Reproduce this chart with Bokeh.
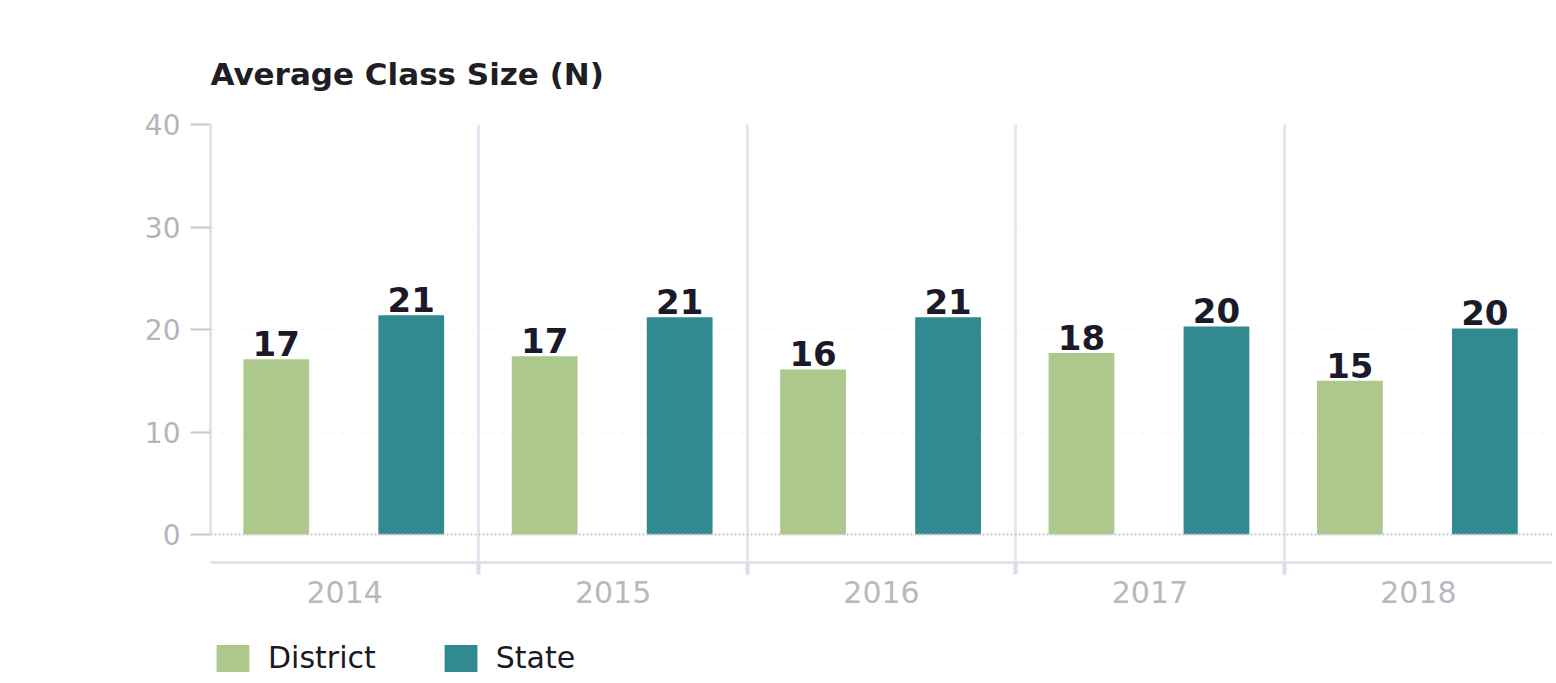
from bokeh.plotting import figure
from bokeh.models import (ColumnDataSource, Range1d, FixedTicker, Span, Legend, LegendItem,
                          LabelSet)
from bokeh.core.properties import value
from bokeh.layouts import column
from bokeh.transform import dodge
from bokeh.embed import file_html
from bokeh.resources import INLINE

years = ["2014", "2015", "2016", "2017", "2018"]
district = [17.1, 17.4, 16.1, 17.7, 15.0]
state = [21.4, 21.2, 21.2, 20.3, 20.1]
district_labels = ["17", "17", "16", "18", "15"]
state_labels = ["21", "21", "21", "20", "20"]
y_ticks = [0, 10, 20, 30, 40]
series = ["District", "State"]

DIST_COLOR = "#adc88d"
STATE_COLOR = "#318a90"
FONT = "DejaVu Sans"

xc = [i + 0.5 for i in range(len(years))]
src = ColumnDataSource(dict(x=xc, district=district, state=state,
                            dl=district_labels, sl=state_labels))

p = figure(frame_width=1342, frame_height=438, output_backend="svg", toolbar_location=None,
           x_range=Range1d(0, len(years)), y_range=Range1d(-2.73, 40),
           min_border_left=210, min_border_right=0, min_border_top=124,
           min_border_bottom=70)
p.outline_line_color = None
p.background_fill_color = "white"
p.border_fill_color = "white"

# title
p.title.text = "Average Class Size (N)"
p.title.text_font = FONT
p.title.text_font_size = "31px"
p.title.text_font_style = "bold"
p.title.text_color = "#1e1e24"
p.title.align = "left"
p.title.standoff = 65

r1 = p.vbar(x=dodge("x", -0.255, range=p.x_range), top="district", width=0.245,
            source=src, fill_color=DIST_COLOR, line_color=None)
r2 = p.vbar(x=dodge("x", 0.248, range=p.x_range), top="state", width=0.245,
            source=src, fill_color=STATE_COLOR, line_color=None)

lab_kw = dict(text_font=value(FONT), text_font_size="34px", text_font_style="bold",
              text_color="#1a1a2a", text_align="center", text_baseline="alphabetic",
              y_offset=3, source=src)
p.add_layout(LabelSet(x=dodge("x", -0.255, range=p.x_range), y="district", text="dl", **lab_kw))
p.add_layout(LabelSet(x=dodge("x", 0.248, range=p.x_range), y="state", text="sl", **lab_kw))

# baseline at zero
p.add_layout(Span(location=0, dimension="width", line_color="#c8c8cc",
                  line_width=2, line_dash="2 2"))

# y axis
p.yaxis.ticker = FixedTicker(ticks=y_ticks)
p.yaxis.bounds = (0, 40)
p.yaxis.axis_line_color = "#e2e2ee"
p.yaxis.axis_line_width = 3
p.yaxis.major_tick_line_color = "#c8c8d0"
p.yaxis.major_tick_line_width = 2
p.yaxis.major_tick_out = 20
p.yaxis.major_tick_in = 0
p.yaxis.minor_tick_line_color = None
p.yaxis.major_label_text_font = FONT
p.yaxis.major_label_text_font_size = "28px"
p.yaxis.major_label_text_color = "#b4b4bc"
p.yaxis.major_label_standoff = 10

# x axis
p.xaxis.ticker = FixedTicker(ticks=xc, minor_ticks=[1, 2, 3, 4])
p.xaxis.major_label_overrides = {x: y for x, y in zip(xc, years)}
p.xaxis.axis_line_color = "#e2e2ea"
p.xaxis.axis_line_width = 3
p.xaxis.major_tick_line_color = None
p.xaxis.minor_tick_line_color = "#dcdce8"
p.xaxis.minor_tick_line_width = 4
p.xaxis.minor_tick_out = 12
p.xaxis.minor_tick_in = 0
p.xaxis.major_label_text_font = FONT
p.xaxis.major_label_text_font_size = "30px"
p.xaxis.major_label_text_color = "#b8b8c0"
p.xaxis.major_label_standoff = 6

# grids
p.xgrid.ticker = FixedTicker(ticks=[1, 2, 3, 4, 5])
p.xgrid.grid_line_color = "#e6e6f2"
p.xgrid.grid_line_width = 3
p.ygrid.ticker = FixedTicker(ticks=[10, 20, 30])
p.ygrid.grid_line_color = "#f2f2f2"
p.ygrid.grid_line_dash = "4 6"

# legend strip (frame aligned with the main chart by the column layout)
p2 = figure(width=1552, height=48, output_backend="svg", toolbar_location=None,
            x_range=Range1d(0, 1), y_range=Range1d(0, 1),
            min_border_left=0, min_border_right=0, min_border_top=0, min_border_bottom=0)
p2.axis.visible = False
p2.grid.visible = False
p2.outline_line_color = None
p2.border_fill_color = "white"
p2.background_fill_color = "white"
d1 = p2.vbar(x=[-10], top=[-10], width=0.1, fill_color=DIST_COLOR, line_color=None)
d2 = p2.vbar(x=[-10], top=[-10], width=0.1, fill_color=STATE_COLOR, line_color=None)
legend = Legend(items=[LegendItem(label=series[0], renderers=[d1]),
                       LegendItem(label=series[1], renderers=[d2])],
                orientation="horizontal", location=(2, 5),
                label_text_font=FONT, label_text_font_size="30px",
                label_text_color="#1a1a24", glyph_width=41, glyph_height=34,
                spacing=64, label_standoff=15, border_line_color=None,
                background_fill_alpha=0, padding=0, margin=0)
p2.add_layout(legend, "center")

layout = column(p, p2, spacing=0)
open("out.html", "w").write(file_html(layout, INLINE))
